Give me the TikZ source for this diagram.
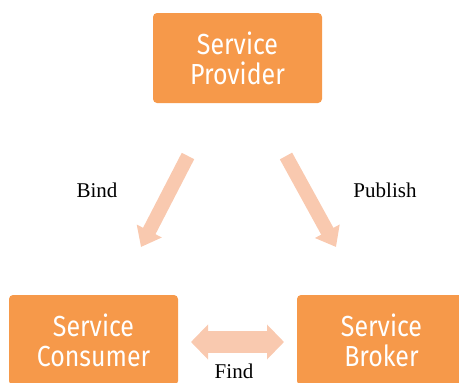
\documentclass[tikz,border=0pt]{standalone}
\usepackage{fontspec}
\setmainfont{Liberation Serif}
\newfontfamily\boxfont[FakeStretch=0.86]{Fira Sans}
\usetikzlibrary{positioning}
\usetikzlibrary{arrows.meta}
\definecolor{boxorange}{HTML}{F6994A}
\definecolor{peach}{HTML}{F9C9AF}
\tikzset{flow/.style = {draw=peach,line width=14pt,-{Triangle[width=27pt,length=18pt]}}}

\begin{document}
\begin{tikzpicture}[x=1pt,y=-1pt,main node/.style={rectangle,rounded corners=4pt,fill=boxorange,text=white,minimum width=169pt,minimum height=90pt,align=center,inner sep=0pt,font=\boxfont\fontsize{29}{30}\selectfont},lab/.style={font=\fontsize{21}{24}\selectfont}]
            \clip (0,0) rectangle (459,383);
            \node[main node] (provider) at (237.5,58) {Service\\Provider};
            \node[main node] (consumer) at (93.5,340) {Service\\Consumer};
            \node[main node] (broker) at (381.5,340) {Service\\Broker};
            \coordinate (bindtail) at (188,156);
            \coordinate (bindtip) at (141,247);
            \coordinate (pubtail) at (286,156);
            \coordinate (pubtip) at (336,247);
            \coordinate (findl) at (191,342);
            \coordinate (findr) at (284,342);
            \draw[flow] (bindtail) -- (bindtip);
            \draw[flow] (pubtail) -- (pubtip);
            \draw[draw=peach,line width=22pt,{Triangle[width=34pt,length=17pt]}-{Triangle[width=34pt,length=17pt]}] (findl) -- (findr);
            \node[lab] (bind) at (97,190) {Bind};
            \node[lab] (publish) at (385,190) {Publish};
            \node[lab] (find) at (234,371) {Find};
        \end{tikzpicture}
\end{document}
